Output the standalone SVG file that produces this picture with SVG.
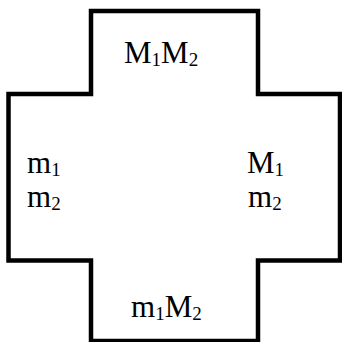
<svg xmlns="http://www.w3.org/2000/svg" width="342" height="342" viewBox="0 0 342 342">
<style>
.shape{fill:none;stroke:#000;stroke-width:4.5;stroke-linejoin:miter}
.t{font-family:"Liberation Serif","Times New Roman",serif;font-size:31px;fill:#000}
.s{font-size:19px}
</style>
<rect width="342" height="342" fill="#fff"/>
<g id="cross">
<path class="shape" d="M91,11 H258 V94 H340 V260.5 H258 V341 H91 V260.5 H8.5 V94 H91 Z"/>
</g>
<g id="top"><text class="t" x="124" y="63">M<tspan class="s" dy="3">1</tspan><tspan dy="-3">M</tspan><tspan class="s" dy="3">2</tspan></text></g>
<g id="left"><text class="t" x="27" y="173">m<tspan class="s" dy="3">1</tspan></text><text class="t" x="27" y="207">m<tspan class="s" dy="3">2</tspan></text></g>
<g id="right"><text class="t" x="247" y="173">M<tspan class="s" dy="3">1</tspan></text><text class="t" x="248" y="207">m<tspan class="s" dy="3">2</tspan></text></g>
<g id="bottom"><text class="t" x="131" y="317">m<tspan class="s" dy="3">1</tspan><tspan dy="-3">M</tspan><tspan class="s" dy="3">2</tspan></text></g>
</svg>
